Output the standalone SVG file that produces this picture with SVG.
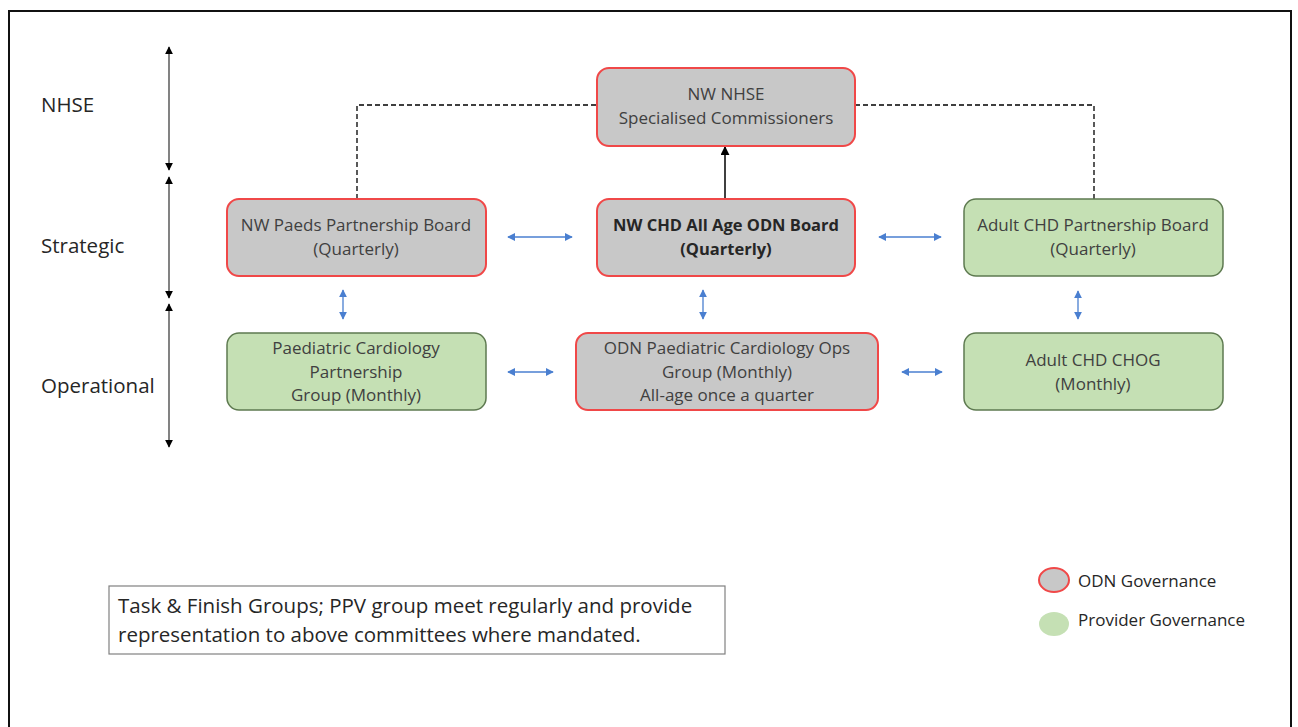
<svg xmlns="http://www.w3.org/2000/svg" width="1298" height="727" viewBox="0 0 1298 727">
<defs>
<style>
.t{font-family:"Open Sans","Liberation Sans",sans-serif;fill:#404040;font-size:17px;text-anchor:middle}
.lbl{font-family:"Open Sans","Liberation Sans",sans-serif;fill:#262626;font-size:20.5px}
.odn{fill:#c8c8c8;stroke:#f04848;stroke-width:2}
.prov{fill:#c5e0b4;stroke:#5e7a50;stroke-width:1.5}
.blue{stroke:#4a7fd0;stroke-width:1.3;fill:none;marker-start:url(#bh);marker-end:url(#bh)}
.blk{stroke:#404040;stroke-width:1.3;fill:none;marker-start:url(#kh);marker-end:url(#kh)}
</style>
<marker id="bh" viewBox="0 0 10 10" refX="9" refY="5" markerWidth="8" markerHeight="8" markerUnits="userSpaceOnUse" orient="auto-start-reverse"><path d="M0,0L10,5L0,10z" fill="#4a7fd0"/></marker>
<marker id="kh" viewBox="0 0 10 10" refX="9" refY="5" markerWidth="8" markerHeight="8" markerUnits="userSpaceOnUse" orient="auto-start-reverse"><path d="M0,0L10,5L0,10z" fill="#000"/></marker>
<marker id="ka" viewBox="0 0 10 10" refX="9" refY="5" markerWidth="9" markerHeight="9" markerUnits="userSpaceOnUse" orient="auto"><path d="M0,0L10,5L0,10z" fill="#000"/></marker>
</defs>
<rect width="1298" height="727" fill="#fff"/>
<path d="M9,740V11H1291V740" fill="none" stroke="#111" stroke-width="2"/>
<g id="labels">
<text class="lbl" x="41" y="112">NHSE</text>
<text class="lbl" x="41" y="253">Strategic</text>
<text class="lbl" x="41" y="393">Operational</text>
</g>
<g id="connectors">
<line class="blk" x1="169" y1="47" x2="169" y2="170"/>
<line class="blk" x1="169" y1="177" x2="169" y2="298"/>
<line class="blk" x1="169" y1="304" x2="169" y2="447"/>
<path d="M357,199V105H597M855,105H1094V199" fill="none" stroke="#000" stroke-width="1.3" stroke-dasharray="5,3"/>
<line x1="725" y1="199" x2="725" y2="147" stroke="#000" stroke-width="1.5" marker-end="url(#ka)"/>
<line class="blue" x1="508" y1="237" x2="572" y2="237"/>
<line class="blue" x1="879" y1="237" x2="941" y2="237"/>
<line class="blue" x1="508" y1="372" x2="553" y2="372"/>
<line class="blue" x1="902" y1="372" x2="942" y2="372"/>
<line class="blue" x1="343" y1="290" x2="343" y2="319"/>
<line class="blue" x1="703" y1="290" x2="703" y2="319"/>
<line class="blue" x1="1078" y1="291" x2="1078" y2="319"/>
</g>
<g id="nhse"><rect class="odn" x="597" y="68" width="258" height="78" rx="12"/>
<text class="t" x="726" y="100">NW NHSE</text><text class="t" x="726" y="124">Specialised Commissioners</text></g>
<g id="paeds-board"><rect class="odn" x="227" y="199" width="259" height="77" rx="12"/>
<text class="t" x="356" y="231">NW Paeds Partnership Board</text><text class="t" x="356" y="255">(Quarterly)</text></g>
<g id="odn-board"><rect class="odn" x="597" y="199" width="258" height="77" rx="12"/>
<text class="t" x="726" y="231" style="font-weight:bold;fill:#262626;font-size:16.5px">NW CHD All Age ODN Board</text><text class="t" x="726" y="255" style="font-weight:bold;fill:#262626;font-size:16.5px">(Quarterly)</text></g>
<g id="adult-board"><rect class="prov" x="964" y="199" width="259" height="77" rx="12"/>
<text class="t" x="1093" y="231">Adult CHD Partnership Board</text><text class="t" x="1093" y="255">(Quarterly)</text></g>
<g id="paed-group"><rect class="prov" x="227" y="333" width="259" height="77" rx="12"/>
<text class="t" x="356" y="354">Paediatric Cardiology</text><text class="t" x="356" y="378">Partnership</text><text class="t" x="356" y="401">Group (Monthly)</text></g>
<g id="odn-ops"><rect class="odn" x="576" y="333" width="302" height="77" rx="12"/>
<text class="t" x="727" y="354">ODN Paediatric Cardiology Ops</text><text class="t" x="727" y="378">Group (Monthly)</text><text class="t" x="727" y="401">All-age once a quarter</text></g>
<g id="chog"><rect class="prov" x="964" y="333" width="259" height="77" rx="12"/>
<text class="t" x="1093" y="366">Adult CHD CHOG</text><text class="t" x="1093" y="390">(Monthly)</text></g>
<g id="note"><rect x="109" y="586" width="616" height="68" fill="#fff" stroke="#808080" stroke-width="1.2"/>
<text class="lbl" x="118" y="613" style="font-size:20.5px">Task &amp; Finish Groups; PPV group meet regularly and provide</text>
<text class="lbl" x="118" y="642" style="font-size:20.5px">representation to above committees where mandated.</text></g>
<g id="legend">
<ellipse cx="1054" cy="580" rx="15" ry="12" class="odn"/>
<ellipse cx="1054" cy="624" rx="15" ry="12" fill="#c5e0b4"/>
<text class="lbl" x="1078" y="587" style="font-size:17px">ODN Governance</text>
<text class="lbl" x="1078" y="626" style="font-size:17px">Provider Governance</text>
</g>
</svg>
